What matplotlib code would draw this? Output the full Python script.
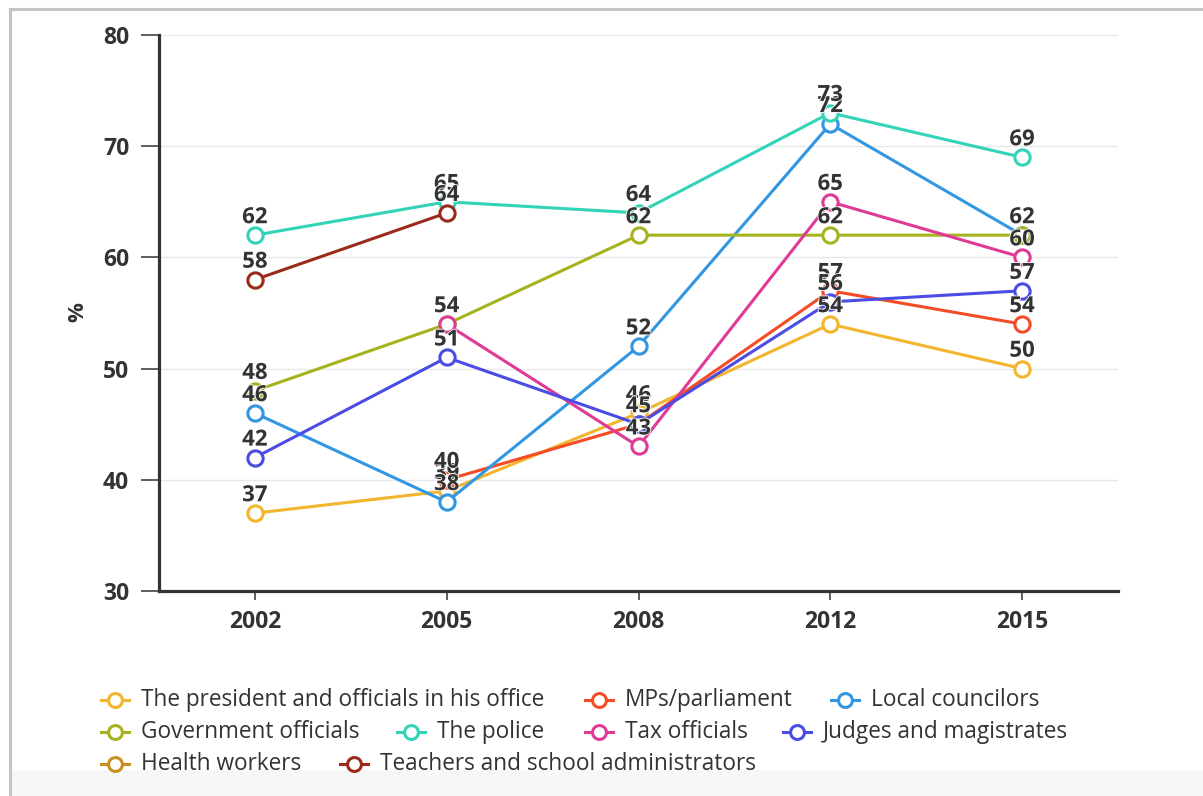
import numpy as np
import matplotlib
matplotlib.use("Agg")
import matplotlib.pyplot as plt
from matplotlib.lines import Line2D
from matplotlib.patches import Rectangle
import matplotlib.patheffects as pe

plt.rcParams['font.family'] = ['Open Sans', 'DejaVu Sans']

# ---- data -------------------------------------------------------------
years = ["2002", "2005", "2008", "2012", "2015"]
nan = np.nan

president = [37, 39, 46, 54, 50]
mps = [nan, 40, 45, 57, 54]
local_councilors = [46, 38, 52, 72, 62]
government_officials = [48, 54, 62, 62, 62]
police = [62, 65, 64, 73, 69]
tax_officials = [nan, 54, 43, 65, 60]
judges = [42, 51, 45, 56, 57]
health_workers = [nan, nan, nan, nan, nan]
teachers = [58, 64, nan, nan, nan]

series_names = [
    "The president and officials in his office",
    "MPs/parliament",
    "Local councilors",
    "Government officials",
    "The police",
    "Tax officials",
    "Judges and magistrates",
    "Health workers",
    "Teachers and school administrators",
]
series_values = [president, mps, local_councilors, government_officials,
                 police, tax_officials, judges, health_workers, teachers]
series_colors = ["#f3b52d", "#f44c26", "#3197e2", "#a6b31f", "#33d3b8",
                 "#e03a97", "#4a4ce3", "#c8901e", "#9a2b1b"]

y_ticks = [30, 40, 50, 60, 70, 80]

# ---- figure -----------------------------------------------------------
W, H = 1203, 796
fig = plt.figure(figsize=(W / 100, H / 100), dpi=100)
fig.patch.set_facecolor("white")

# page frame and footer band
fig.add_artist(Rectangle((11 / W, 0), 1 - 11 / W, 26 / H, transform=fig.transFigure,
                         facecolor="#f7f7f7", edgecolor="none", zorder=0))
fig.add_artist(Line2D([10 / W, 1], [1 - 9 / H, 1 - 9 / H], transform=fig.transFigure,
                      color="#c4c4c4", lw=2.2))
fig.add_artist(Line2D([10 / W, 10 / W], [0, 1 - 9 / H], transform=fig.transFigure,
                      color="#c4c4c4", lw=2.2))

ax = fig.add_axes([159 / W, 1 - 591 / H, (1118 - 159) / W, (591 - 35) / H])
ax.set_facecolor("none")
x = np.arange(len(years))

text_color = "#333333"
for name, vals, col in zip(series_names, series_values, series_colors):
    ax.plot(x, vals, color=col, lw=2.2, marker="o", ms=11, mfc="white",
            mec=col, mew=2.2, zorder=3, label=name)

for name, vals, col in zip(series_names, series_values, series_colors):
    for xi, v in zip(x, vals):
        if np.isnan(v):
            continue
        ax.annotate(f"{v:g}", (xi, v), xytext=(0, 8.6), textcoords="offset points",
                    ha="center", va="baseline", fontsize=16, fontweight="bold",
                    color=text_color, zorder=5,
                    path_effects=[pe.withStroke(linewidth=1.2, foreground="white")])

ax.set_xlim(-0.5, 4.5)
ax.set_ylim(30, 80)
ax.set_xticks(x)
ax.set_xticklabels(years)
ax.set_yticks(y_ticks)
ax.yaxis.grid(True, color="#e8e8e8", lw=1)
ax.set_axisbelow(True)
for s in ("top", "right"):
    ax.spines[s].set_visible(False)
for s in ("left", "bottom"):
    ax.spines[s].set_color(text_color)
    ax.spines[s].set_linewidth(2.3)
ax.tick_params(axis="y", length=13, width=1.1, color=text_color, pad=8.5,
               labelsize=16.5, labelcolor=text_color)
ax.tick_params(axis="x", length=6.5, width=1.1, color=text_color, pad=7,
               labelsize=16.5, labelcolor=text_color)
for lab in ax.get_xticklabels() + ax.get_yticklabels():
    lab.set_fontweight("bold")

fig.text(78 / W, 1 - 312 / H, "%", rotation=90, ha="center", va="center",
         fontsize=16, fontweight="bold", color=text_color)

# ---- legend (flowing rows) ----------------------------------------------
legend_rows = [
    (700, [(0, 141), (1, 625), (2, 871)]),
    (732, [(3, 141), (4, 437), (5, 625), (6, 823)]),
    (764, [(7, 141), (8, 380)]),
]
for ypx, items in legend_rows:
    yf = 1 - ypx / H
    for idx, tx in items:
        col = series_colors[idx]
        mx = tx - 26
        fig.add_artist(Line2D([(mx - 14) / W, (mx + 14) / W], [yf, yf],
                              transform=fig.transFigure, color=col, lw=2.2))
        fig.add_artist(Line2D([mx / W], [yf], transform=fig.transFigure,
                              marker="o", ms=10, mfc="white", mec=col, mew=2.2,
                              lw=0))
        fig.text(tx / W, yf, series_names[idx], ha="left", va="center",
                 fontsize=16.3, color=text_color)

fig.savefig("out.png", dpi=100)
